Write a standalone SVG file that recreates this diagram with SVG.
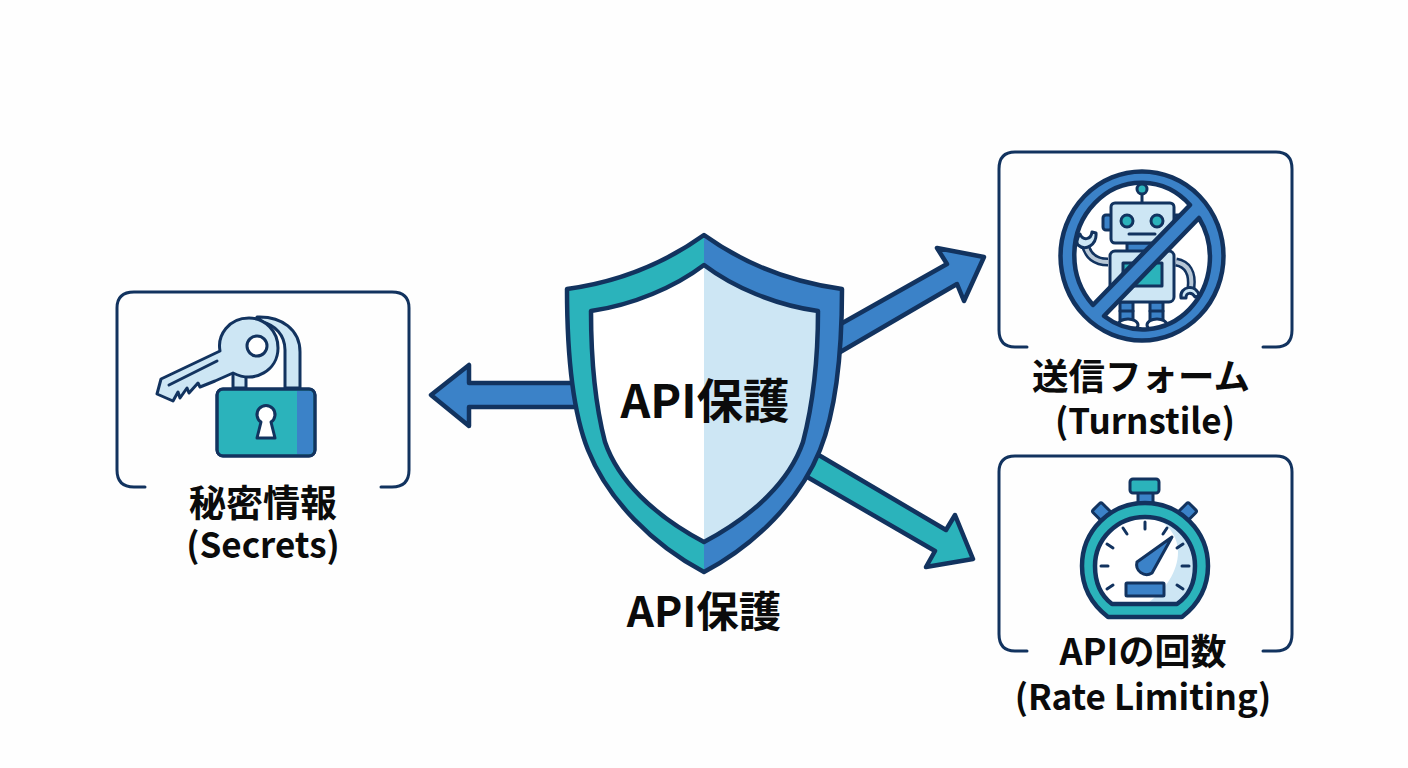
<svg xmlns="http://www.w3.org/2000/svg" width="1408" height="768" viewBox="0 0 1408 768">
<style>
.o{stroke:#12335f;stroke-width:4.5;stroke-linejoin:round;stroke-linecap:round}
.t{stroke:#12335f;stroke-width:3;stroke-linejoin:round;stroke-linecap:round}
.teal{fill:#2bb3bb}.blue{fill:#3b82c8}.pale{fill:#cde6f4}.wh{fill:#fff}.no{fill:none}
.frame{fill:none;stroke:#12335f;stroke-width:3;stroke-linecap:round}
text{font-family:"Noto Sans CJK JP","Noto Sans",sans-serif;font-weight:700;fill:#0b0b0b;text-anchor:middle}
</style>
<defs><clipPath id="ring"><ellipse cx="1142" cy="256" rx="67" ry="72"/></clipPath></defs>
<rect width="1408" height="768" fill="#fefefe"/>
<g id="connectors">
<path class="o blue" d="M431 395L469 365V383H585V407H469V426Z"/>
<path class="o blue" d="M830 330L947 264L937 248L984 257L964 301L957 284L830 358Z"/>
<path class="o teal" d="M800 444L946 530L955 515L973 559L926 567L935 551L790 467Z"/>
</g>
<g id="shield">
<path class="teal" d="M704 235C665 263 618 282 567 289C567 350 572 410 588 450C608 500 653 545 704 572Z"/>
<path class="blue" d="M704 235C743 263 790 282 842 289C842 350 836 410 820 450C800 500 755 545 704 572Z"/>
<path class="wh" d="M704 265C675 287 633 305 591 311C591 350 594 400 605 442C618 480 653 515 704 542Z"/>
<path class="pale" d="M704 265C733 287 775 305 818 311C818 350 814 400 803 442C790 480 755 515 704 542Z"/>
<path class="o no" d="M704 235C743 263 790 282 842 289C842 350 836 410 820 450C800 500 755 545 704 572C653 545 608 500 588 450C572 410 567 350 567 289C618 282 665 263 704 235Z"/>
<path class="o no" d="M704 265C733 287 775 305 818 311C818 350 814 400 803 442C790 480 755 515 704 542C653 515 618 480 605 442C594 400 591 350 591 311C633 305 675 287 704 265Z"/>
<text x="705" y="418" font-size="46.5">API保護</text>
<text x="704" y="627" font-size="42.5">API保護</text>
</g>
<g id="secrets">
<path class="frame" d="M145 487H134Q117 487 117 470V308Q117 292 134 292H392Q409 292 409 308V470Q409 487 392 487H381"/>
<path class="t pale" d="M233 388V372L246 372V388Z"/>
<path class="t pale" d="M257 317C282 316 300 330 300 352V388H285V350C285 335 275 325 262 322Z"/>
<path class="t pale" d="M220 351L161 379L157 394L173 401L178 392L180 398L187 388L189 393L198 383L200 387L215 381L233 373C255 384 278 370 278 348C278 331 265 318 249 318C229 318 217 335 220 351Z"/>
<path class="t no" d="M169 385L217 361"/>
<circle class="t wh" cx="257" cy="346" r="10"/>
<rect class="t teal" x="217" y="389" width="98" height="67" rx="6"/>
<path class="blue" d="M297 391H309Q313 391 313 395V450Q313 454 309 454H297Z"/>
<rect class="t no" x="217" y="389" width="98" height="67" rx="6"/>
<path class="t wh" d="M261 422A9 9 0 1 1 271 422L275 438H257Z"/>
<text x="263" y="517" font-size="37">秘密情報</text>
<text x="263" y="558" font-size="35">(Secrets)</text>
</g>
<g id="turnstile">
<path class="frame" d="M1027 347H1015Q999 347 999 330V169Q999 152 1015 152H1276Q1292 152 1292 169V330Q1292 347 1276 347H1263"/>
<ellipse class="wh" cx="1142" cy="256" rx="68" ry="73"/>
<g clip-path="url(#ring)">
<path class="t no" d="M1142 203V194"/>
<circle class="t teal" cx="1142" cy="189" r="5"/>
<rect class="t blue" x="1103" y="215" width="9" height="15" rx="3"/>
<rect class="t blue" x="1173" y="215" width="8" height="15" rx="3"/>
<rect class="t blue" x="1127" y="243" width="31" height="10"/>
<path d="M1108 262C1096 262 1087 256 1085 243" fill="none" stroke="#12335f" stroke-width="9"/>
<path d="M1108 262C1096 262 1087 256 1085 243" fill="none" stroke="#b7c7d6" stroke-width="4"/>
<path d="M1176 262C1187 264 1193 272 1191 288" fill="none" stroke="#12335f" stroke-width="9"/>
<path d="M1176 262C1187 264 1193 272 1191 288" fill="none" stroke="#b7c7d6" stroke-width="4"/>
<path class="t pale" d="M1080 234C1083 241 1091 240 1092 232L1096 233C1097 244 1086 252 1078 245C1076 242 1077 238 1080 234Z"/>
<path class="t pale" d="M1181 298C1179 286 1197 283 1199 296L1195 297C1192 292 1186 292 1186 298Z"/>
<rect class="t blue" x="1120" y="302" width="13" height="18"/>
<rect class="t blue" x="1150" y="302" width="13" height="18"/>
<path class="t no" d="M1120 311H1133M1150 311H1163"/>
<ellipse class="t wh" cx="1128" cy="325" rx="10" ry="6"/>
<ellipse class="t wh" cx="1157" cy="325" rx="10" ry="6"/>
<rect class="t pale" x="1111" y="203" width="63" height="40" rx="4"/>
<circle class="t teal" cx="1127" cy="221" r="6"/>
<circle class="t teal" cx="1157" cy="221" r="6"/>
<path class="t no" d="M1129 234H1155"/>
<rect class="t pale" x="1110" y="251" width="64" height="51" rx="5"/>
<rect class="t teal" x="1123" y="263" width="39" height="23"/>
</g>
<path class="blue" fill-rule="evenodd" d="M1142 171.500A81.500 84.500 0 1 0 1142 340.500A81.500 84.500 0 1 0 1142 171.500ZM1190 205L1093 305A67 72 0 0 1 1190 205ZM1199 218A67 72 0 0 1 1104 316Z"/>
<path class="o no" fill-rule="evenodd" d="M1142 171.500A81.500 84.500 0 1 0 1142 340.500A81.500 84.500 0 1 0 1142 171.500ZM1190 205L1093 305A67 72 0 0 1 1190 205ZM1199 218A67 72 0 0 1 1104 316Z"/>
<text x="1141" y="390" font-size="36.5">送信フォーム</text>
<text x="1145" y="434" font-size="35">(Turnstile)</text>
</g>
<g id="rate-limiting">
<path class="frame" d="M1027 651H1015Q999 651 999 634V472Q999 456 1015 456H1276Q1292 456 1292 472V634Q1292 651 1276 651H1263"/>
<rect class="t blue" x="1138" y="492" width="15" height="13"/>
<rect class="t teal" x="1130" y="479" width="29" height="14" rx="3"/>
<rect class="t blue" x="1094" y="505" width="15" height="13" rx="2" transform="rotate(45 1101 512)"/>
<rect class="t blue" x="1180" y="505" width="15" height="13" rx="2" transform="rotate(-45 1188 512)"/>
<path class="o teal" d="M1108 617C1090 603 1082 587 1082 566C1082 531 1110 503 1145 503C1180 503 1208 531 1208 566C1208 587 1200 603 1182 617Z"/>
<path class="wh" d="M1112 604C1100 595 1095 582 1095 566C1095 539 1117 517 1145 517C1173 517 1195 539 1195 566C1195 582 1190 595 1177 604Z"/>
<path class="pale" d="M1158 519C1173 523 1195 539 1195 566C1195 582 1190 595 1177 604H1147C1165 590 1178 572 1178 552C1178 538 1170 526 1158 519Z"/>
<path class="o no" d="M1112 604C1100 595 1095 582 1095 566C1095 539 1117 517 1145 517C1173 517 1195 539 1195 566C1195 582 1190 595 1177 604Z"/>
<path class="t no" d="M1145 522V529M1123 528L1127 534M1167 528L1163 534M1107 544L1113 548M1183 544L1177 548M1101 566H1108M1182 566H1189M1107 589L1113 585M1183 589L1177 585"/>
<path class="t blue" d="M1172 537L1152 573A10 10 0 0 1 1137 562Z"/>
<rect class="t blue" x="1126" y="583" width="38" height="13" rx="1"/>
<text x="1143" y="665" font-size="36">APIの回数</text>
<text x="1143" y="710" font-size="35">(Rate Limiting)</text>
</g>
</svg>
